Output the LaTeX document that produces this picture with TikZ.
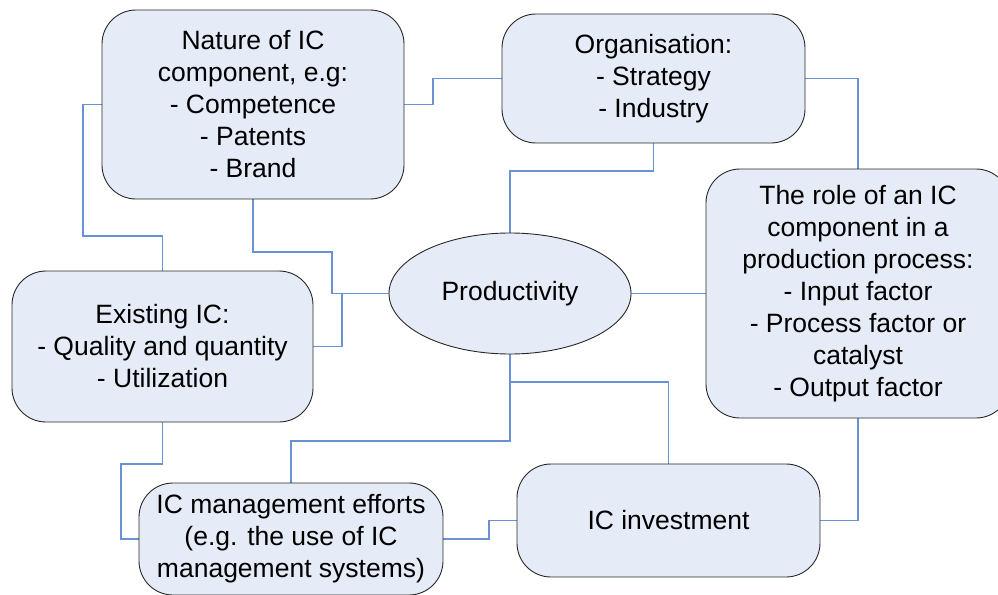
\documentclass[tikz,border=0pt]{standalone}
\usepackage{fontspec}
\setmainfont{Liberation Sans}
\usetikzlibrary{shapes.geometric,backgrounds}
\definecolor{boxfill}{RGB}{230,236,247}
\definecolor{boxline}{RGB}{40,40,40}
\definecolor{conn}{RGB}{104,146,212}
\tikzset{
  box/.style={draw=boxline, line width=0.9pt, fill=boxfill, rounded corners=34pt,
    align=center, inner sep=0pt, font=\fontsize{26.5}{32}\selectfont},
  oval/.style={draw=boxline, line width=0.9pt, fill=boxfill, ellipse, inner sep=0pt,
    font=\fontsize{26.5}{32}\selectfont},
  link/.style={draw=conn, line width=1.2pt}
}
\begin{document}
\begin{tikzpicture}[x=1pt,y=-1pt]
\useasboundingbox (0,0) rectangle (998,594);
\clip (0,0) rectangle (998,594);
\node[box, minimum width=302, minimum height=189] (nat) at (253,104.5) {Nature of IC\\component, e.g:\\- Competence\\- Patents\\- Brand};
\node[box, minimum width=303, minimum height=129] (org) at (653.5,78.5) {Organisation:\\- Strategy\\- Industry};
\node[box, minimum width=304, minimum height=249] (role) at (858,293.5) {The role of an IC\\component in a\\production process:\\- Input factor\\- Process factor or\\catalyst\\- Output factor};
\node[box, minimum width=301, minimum height=151] (exi) at (162.5,346.5) {Existing IC:\\- Quality and quantity\\- Utilization};
\node[box, minimum width=304, minimum height=112] (mgmt) at (291,539) {IC management efforts\\(e.g. the use of IC\\management systems)};
\node[box, minimum width=303, minimum height=113] (inv) at (668.5,520.5) {IC investment};
\node[oval, minimum width=242, minimum height=121] (prod) at (510,293.5) {Productivity};
\begin{scope}[on background layer]
\draw[link] (nat.west) -| (83,236) -| (exi.north);
\draw[link] (nat.east) -| (433,78.5) -- (org.west);
\draw[link] (nat.south) |- (332,252) |- (prod.west);
\draw[link] (exi.east) -| (342,293.5) -- (prod.west);
\draw[link] (org.south) |- (510,171) -- (prod.north);
\draw[link] (org.east) -| (role.north);
\draw[link] (prod.east) -- (role.west);
\draw[link] (role.south) |- (inv.east);
\draw[link] (prod.south) |- (668.5,382) -- (inv.north);
\draw[link] (prod.south) |- (291,441) -- (mgmt.north);
\draw[link] (exi.south) |- (121,464) |- (mgmt.west);
\draw[link] (mgmt.east) -| (489,520.5) -- (inv.west);
\end{scope}
\end{tikzpicture}
\end{document}
